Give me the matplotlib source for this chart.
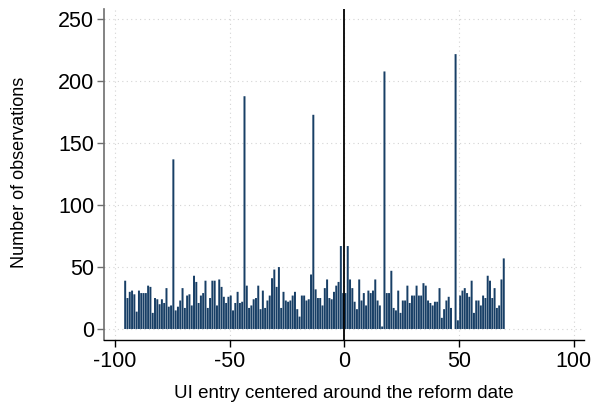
import numpy as np
import matplotlib
matplotlib.use("Agg")
import matplotlib.pyplot as plt

plt.rcParams['font.family'] = ['Liberation Sans', 'DejaVu Sans']

# Days relative to the reform date and the number of UI entries on each day
first_day = -96
last_day = 69
counts = [
    # -96 .. -77
    39, 25, 30, 31, 28, 14, 31, 29, 29, 29, 35, 34, 13, 25, 24, 20, 24, 21, 33, 18,
    # -76 .. -57
    19, 137, 15, 18, 23, 33, 17, 27, 28, 19, 43, 38, 21, 27, 29, 39, 17, 25, 39, 39,
    # -56 .. -37
    19, 40, 34, 26, 21, 26, 27, 15, 21, 30, 21, 22, 188, 35, 17, 19, 24, 25, 35, 16,
    # -36 .. -17
    31, 17, 23, 27, 41, 48, 34, 50, 17, 30, 23, 22, 23, 27, 30, 16, 10, 27, 27, 23,
    # -16 .. 3
    24, 44, 173, 32, 25, 25, 19, 33, 40, 25, 24, 30, 35, 38, 67, 29, 29, 67, 40, 33,
    # 4 .. 23
    22, 16, 40, 23, 29, 19, 31, 29, 31, 40, 23, 19, 2, 208, 29, 29, 47, 17, 15, 31,
    # 24 .. 43
    13, 23, 23, 35, 21, 27, 27, 35, 27, 27, 37, 35, 23, 21, 19, 22, 22, 33, 9, 16,
    # 44 .. 63
    23, 26, 17, 0, 222, 7, 27, 31, 33, 29, 26, 39, 13, 23, 23, 19, 27, 25, 43, 39,
    # 64 .. 69
    25, 33, 17, 19, 40, 57,
]
days = np.arange(first_day, last_day + 1)

x_ticks = [-100, -50, 0, 50, 100]
y_ticks = [0, 50, 100, 150, 200, 250]

W, H = 592, 403
fig = plt.figure(figsize=(W / 100, H / 100), dpi=100)
ax = fig.add_axes([104 / W, 1 - 340 / H, (584 - 104) / W, (340 - 9.3) / H])

bar_color = '#183f66'
bars = ax.bar(days, counts, width=0.86, align='edge', color=bar_color,
              edgecolor='none', zorder=2)
for b in bars:
    b.set_snap(False)

# reference line at the reform date
ax.axvline(0, color='black', linewidth=1.3, zorder=3)

ax.set_xlim(-104.8, 104.4)
ax.set_ylim(-8.9, 258.2)
ax.set_xticks(x_ticks)
ax.set_xticklabels([str(v) for v in x_ticks])
ax.set_yticks(y_ticks)
ax.set_yticklabels([str(v) for v in y_ticks])

ax.grid(True, which='major', axis='both', color='#d4d4d4', linestyle=(0, (1, 3)),
        linewidth=0.8, zorder=0)
ax.set_axisbelow(True)

for side in ('top', 'right'):
    ax.spines[side].set_visible(False)
ax.spines['left'].set_color('#6e6e6e')
ax.spines['left'].set_linewidth(1.2)
ax.spines['bottom'].set_color('black')
ax.spines['bottom'].set_linewidth(1.0)

ax.tick_params(axis='y', direction='out', length=5, width=1, color='#6e6e6e',
               labelsize=15.5, pad=2)
ax.tick_params(axis='x', direction='out', length=5, width=1, color='black',
               labelsize=15.5, pad=3)

ax.set_ylabel('Number of observations', fontsize=13)
ax.yaxis.set_label_coords(-0.175, 0.508)
ax.yaxis.label.set_va('center')

ax.set_xlabel('UI entry centered around the reform date', fontsize=13.5)
ax.xaxis.set_label_coords(0.5, -0.163)
ax.xaxis.label.set_va('center')

fig.savefig('out.png', dpi=100, facecolor='white')
